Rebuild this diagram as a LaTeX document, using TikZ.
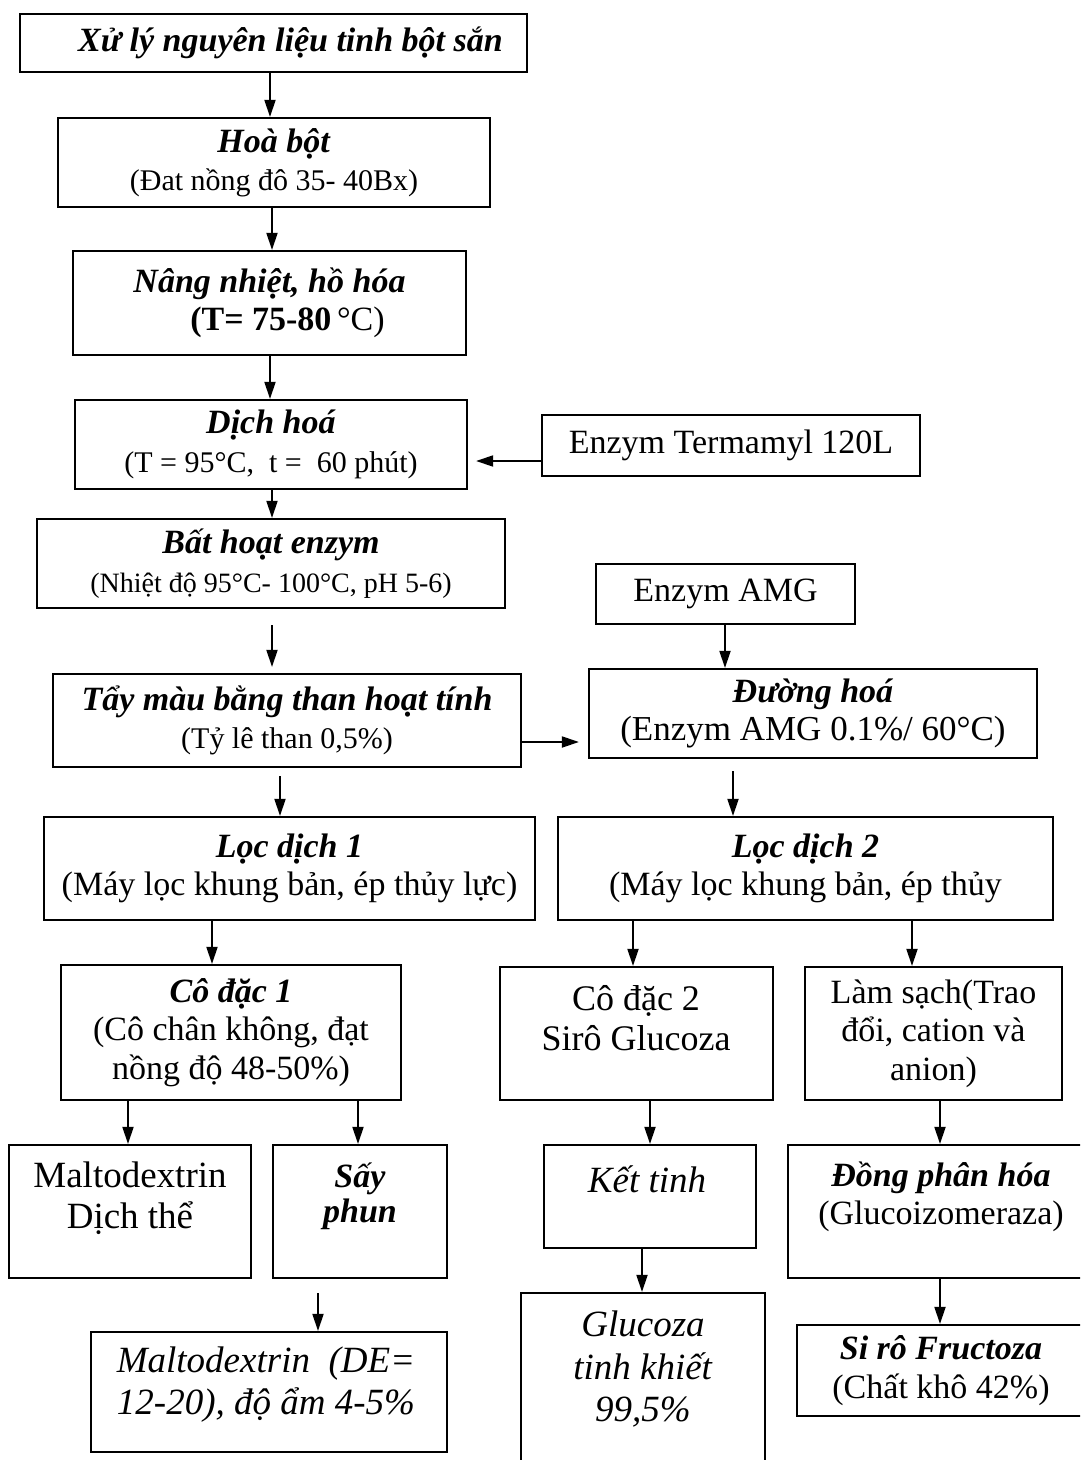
\documentclass[tikz,border=0pt]{standalone}
\usepackage{fontspec}
\setmainfont{Liberation Serif}
\usetikzlibrary{arrows.meta}
\tikzset{
  every node/.style={font=\fontsize{34}{38.5}\selectfont, align=center, inner sep=2pt},
  box/.style={draw, rectangle, line width=2.2pt},
  txt/.style={inner sep=0pt},
  arr/.style={line width=1.9pt, -{Triangle[length=17pt, width=11pt]}}
}
\newcommand{\stagename}[1]{\textbf{\textit{#1}}}
\newcommand{\subnote}[1]{{\fontsize{30}{38.5}\selectfont #1}}
\newcommand{\bigtext}{\fontsize{37}{41}\selectfont}

\begin{document}
\begin{tikzpicture}[x=1pt, y=-1pt]

  % Page frame.
  \path[use as bounding box, clip] (0,0) rectangle (1080,1460);

  % Main column.
  \node[box, minimum width=507pt, minimum height=58pt] (raw) at (273.5,43)
    {\hspace*{34pt}\stagename{Xử lý nguyên liệu tinh bột sắn}};
  \node[box, minimum width=432pt, minimum height=89pt] (hoa) at (274,162.5)
    {\stagename{Hoà bột}\\\subnote{(Đat nồng đô 35- 40Bx)}};
  \node[box, minimum width=393pt, minimum height=104pt] (nang) at (269.5,303)
    {\stagename{Nâng nhiệt, hồ hóa}\\\hspace*{36pt}\textbf{(T= 75-80}\,°C)};
  \node[box, minimum width=392pt, minimum height=89pt] (dich) at (271,444.5)
    {\stagename{Dịch hoá}\\\subnote{(T = 95°C,\ \ t =\ \ 60 phút)}};
  \node[box, minimum width=468pt, minimum height=89pt] (bat) at (271,563.5)
    {\stagename{Bất hoạt enzym}\\{\fontsize{28}{38.5}\selectfont (Nhiệt độ 95°C- 100°C, pH 5-6)}};
  \node[box, minimum width=468pt, minimum height=93pt] (tay) at (287,720.5)
    {\stagename{Tẩy màu bằng than hoạt tính}\\\subnote{(Tỷ lê than 0,5\%)}};

  % Enzyme inputs.
  \node[box, minimum width=378pt, minimum height=61pt] (term) at (731,445.5)
    {Enzym Termamyl 120L};
  \node[box, minimum width=259pt, minimum height=60pt] (amg) at (725.5,594)
    {Enzym AMG};
  \node[box, minimum width=448pt, minimum height=89pt] (duong) at (813,713.5)
    {\stagename{Đường hoá}\\{\fontsize{35}{38.5}\selectfont (Enzym AMG 0.1\%/ 60°C)}};

  % Filtration.
  \node[box, minimum width=491pt, minimum height=103pt] (loc1) at (289.5,868.5)
    {\stagename{Lọc dịch 1}\\(Máy lọc khung bản, ép thủy lực)};
  \node[box, minimum width=495pt, minimum height=103pt] (loc2) at (805.5,868.5)
    {\stagename{Lọc dịch 2}\\(Máy lọc khung bản, ép thủy};

  % Concentration and cleaning.
  \node[box, minimum width=340pt, minimum height=135pt] (co1) at (231,1032.5)
    {\stagename{Cô đặc 1}\\(Cô chân không, đạt\\nồng độ 48-50\%)};
  \node[box, minimum width=273pt, minimum height=133pt] (co2) at (636.5,1033.5) {};
  \node[txt, font=\fontsize{36}{40}\selectfont] (co2txt) at (636,1018)
    {Cô đặc 2\\Sirô Glucoza};
  \node[box, minimum width=257pt, minimum height=133pt] (clean) at (933.5,1033.5)
    {Làm sạch(Trao\\đổi, cation và\\anion)};

  % Lower boxes.
  \node[box, minimum width=242pt, minimum height=133pt] (liquid) at (130,1211.5) {};
  \node[txt, font=\bigtext] (liquidtxt) at (130,1198) {Maltodextrin\\Dịch thể};
  \node[box, minimum width=174pt, minimum height=133pt] (spray) at (360,1211.5) {};
  \node[txt, font=\fontsize{34}{35}\selectfont] (spraytxt) at (360,1196)
    {\stagename{Sấy}\\\stagename{phun}};
  \node[box, minimum width=212pt, minimum height=103pt] (cryst) at (650,1196.5) {};
  \node[txt, font=\bigtext] (crysttxt) at (647,1179) {\textit{Kết tinh}};
  \node[box, minimum width=297pt, minimum height=133pt] (isom) at (936.5,1211.5) {};
  \node[txt] (isomtxt) at (941,1197)
    {\stagename{Đồng phân hóa}\\(Glucoizomeraza)};

  % Products.
  \node[box, minimum width=356pt, minimum height=120pt] (powder) at (269,1392) {};
  \node[txt, font=\fontsize{37}{42}\selectfont] (powdertxt) at (266,1385)
    {\textit{Maltodextrin\ \ (DE=}\\\textit{12-20), độ ẩm 4-5\%}};
  \node[box, minimum width=244pt, minimum height=200pt] (pure) at (643,1393) {};
  \node[txt, font=\fontsize{37}{42.5}\selectfont] (puretxt) at (643,1369)
    {\textit{Glucoza}\\\textit{tinh khiết}\\\textit{99,5\%}};
  \node[box, minimum width=288pt, minimum height=91pt] (syrup) at (941,1370.5)
    {\stagename{Si rô Fructoza}\\(Chất khô 42\%)};

  % Connectors — main column.
  \draw[arr] (raw.south -| 270,0) -- (hoa.north -| 270,0);
  \draw[arr] (hoa.south -| 272,0) -- (nang.north -| 272,0);
  \draw[arr] (nang.south -| 270,0) -- (dich.north -| 270,0);
  \draw[arr] (dich.south -| 272,0) -- (bat.north -| 272,0);
  \draw[arr, shorten <=16pt, shorten >=6pt] (bat.south -| 272,0) -- (tay.north -| 272,0);
  \draw[arr, shorten <=8pt] (tay.south -| 280,0) -- (loc1.north -| 280,0);

  % Connectors — enzymes.
  \draw[arr, shorten >=8pt] (term.west |- 0,461) -- (dich.east |- 0,461);
  \draw[arr] (amg.south -| 725,0) -- (duong.north -| 725,0);
  \draw[arr, shorten >=9pt] (tay.east |- 0,742) -- (duong.west |- 0,742);
  \draw[arr, shorten <=12pt] (duong.south -| 733,0) -- (loc2.north -| 733,0);

  % Connectors — branches.
  \draw[arr] (loc1.south -| 212,0) -- (co1.north -| 212,0);
  \draw[arr] (loc2.south -| 633,0) -- (co2.north -| 633,0);
  \draw[arr] (loc2.south -| 912,0) -- (clean.north -| 912,0);
  \draw[arr] (co1.south -| 128,0) -- (liquid.north -| 128,0);
  \draw[arr] (co1.south -| 358,0) -- (spray.north -| 358,0);
  \draw[arr] (co2.south -| 650,0) -- (cryst.north -| 650,0);
  \draw[arr] (clean.south -| 940,0) -- (isom.north -| 940,0);
  \draw[arr, shorten <=14pt] (spray.south -| 318,0) -- (powder.north -| 318,0);
  \draw[arr] (cryst.south -| 642,0) -- (pure.north -| 642,0);
  \draw[arr] (isom.south -| 940,0) -- (syrup.north -| 940,0);

\end{tikzpicture}
\end{document}
